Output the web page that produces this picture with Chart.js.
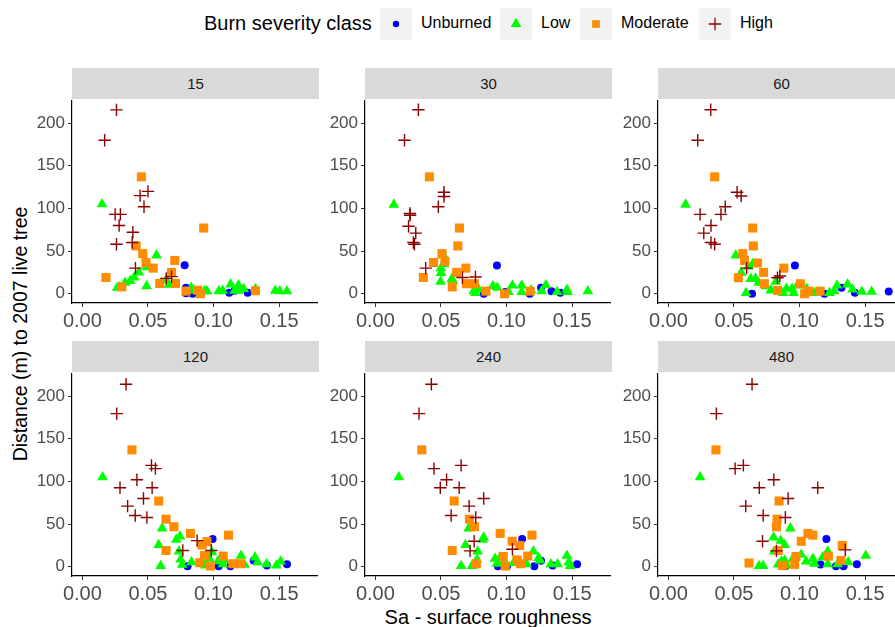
<!DOCTYPE html>
<html>
<head>
<meta charset="utf-8">
<script src="https://cdn.jsdelivr.net/npm/chart.js@4.4.0/dist/chart.umd.min.js"></script>
<style>
  body { margin: 0; width: 895px; height: 627px; overflow: hidden; background: #fff;
         font-family: "Liberation Sans", Arial, sans-serif; position: relative; }
  .strip { position: absolute; width: 247px; height: 31px; line-height: 31px; background: #d9d9d9;
           color: #1a1a1a; font-size: 15px; text-align: center; }
  canvas.panel { position: absolute; }
  .legend-title { position: absolute; left: 204px; top: 12px; font-size: 20px; color: #000; }
  .key { position: absolute; top: 8px; width: 32px; height: 32px; background: #f2f2f2; }
  .key-label { position: absolute; top: 14px; font-size: 16px; color: #000; }
  .ytitle { position: absolute; left: 20px; top: 334px; font-size: 19.5px; color: #000; white-space: nowrap;
            transform: translate(-50%, -50%) rotate(-90deg); }
  .xtitle { position: absolute; left: 488px; top: 617px; font-size: 20px; color: #000; white-space: nowrap;
            transform: translate(-50%, -50%); }
</style>
</head>
<body>
<div class="legend-title">Burn severity class</div>
<div class="ytitle">Distance (m) to 2007 live tree</div>
<div class="xtitle">Sa - surface roughness</div>

<script>
// facet labels (window size) and burn classes
const panels = ['15', '30', '60', '120', '240', '480'];
const classes = ['Unburned', 'Low', 'Moderate', 'High'];
const xTicks = [0, 0.05, 0.10, 0.15];
const yTicks = [0, 50, 100, 150, 200];

// [Sa, distance] per class and facet
const unburned15 = [[0.078,33.5],[0.079,7],[0.079,0.5],[0.084,0],[0.112,1],[0.116,3.5],[0.126,1]];
const low15 = [[0.015,105],[0.0565,45],[0.050,34],[0.049,31],[0.043,25],[0.0395,19],[0.0365,15],[0.0325,13],
  [0.0265,7],[0.0285,8],[0.049,9],[0.066,10.5],[0.064,16],[0.083,7],[0.0855,3.5],[0.093,3],[0.095,3],[0.104,3],
  [0.107,3.5],[0.113,11],[0.119,10],[0.123,5.5],[0.116,3.5],[0.119,3.5],[0.132,5.5],[0.147,3.5],[0.1505,3],[0.156,3]];
const moderate15 = [[0.045,137],[0.0925,77],[0.041,56],[0.046,47],[0.0705,39],[0.0485,36.5],[0.054,30],[0.068,25],
  [0.059,12],[0.071,12],[0.018,19],[0.030,8],[0.079,3],[0.088,4],[0.090,0],[0.132,3.5]];
const high15 = [[0.026,215.5],[0.017,180],[0.044,115],[0.050,120],[0.047,102],[0.025,93],[0.029,93],[0.028,80],
  [0.0385,72],[0.038,60],[0.026,58],[0.0405,30],[0.064,18],[0.068,20]];

const unburned30 = [[0.0927,33],[0.0826,0],[0.099,2],[0.1177,0],[0.1263,7],[0.1343,3],[0.141,1]];
const low30 = [[0.0141,104.5],[0.052,45],[0.0525,35],[0.050,30],[0.050,24.5],[0.0497,14],[0.0583,17.5],[0.0593,14.8],
  [0.075,3],[0.0768,7],[0.0788,5],[0.0763,1],[0.0896,9],[0.093,7],[0.1015,2],[0.1045,9.7],[0.1116,9.7],[0.1116,2],
  [0.1187,4],[0.1268,3],[0.130,10],[0.1386,2],[0.146,4.7],[0.1465,2],[0.162,3]];
const moderate30 = [[0.0412,137],[0.0641,77],[0.0629,56],[0.0508,47],[0.053,38],[0.0444,36.6],[0.069,30],[0.062,25],
  [0.0366,19],[0.0694,11.7],[0.0586,8],[0.0755,11.7],[0.0843,3],[0.0985,0],[0.118,3]];
const high30 = [[0.0328,215.6],[0.0222,180],[0.0523,119],[0.0523,114],[0.048,102],[0.0263,94],[0.0265,92],[0.0253,79],
  [0.0308,71],[0.029,60],[0.0298,58],[0.0384,30],[0.0664,19],[0.0763,19.5]];

const unburned60 = [[0.0965,33],[0.0638,0],[0.119,0],[0.132,7],[0.1422,1],[0.168,2.7]];
const low60 = [[0.0131,104.5],[0.0514,45],[0.0555,24.5],[0.061,32],[0.0643,35],[0.0592,1],[0.0628,17.5],[0.0665,18],
  [0.0688,13],[0.0744,9],[0.0781,3.9],[0.0819,14],[0.0875,1],[0.090,6],[0.0943,5.8],[0.0983,9.7],[0.0955,1],
  [0.1054,5.8],[0.1114,1],[0.1228,1],[0.1265,3],[0.1286,9.7],[0.1366,11],[0.1404,5],[0.1475,2.3],[0.155,2.3]];
const moderate60 = [[0.0353,137],[0.0643,77],[0.0648,56],[0.0567,47],[0.058,39],[0.068,36],[0.088,30],[0.0726,25],
  [0.0534,18.7],[0.0731,11.7],[0.0832,3.9],[0.1006,11.7],[0.1039,0],[0.107,3],[0.1157,3]];
const high60 = [[0.0323,215.6],[0.0224,180],[0.0524,119],[0.0555,114.6],[0.0434,102],[0.0242,93],[0.0401,93],
  [0.0325,80],[0.027,71],[0.0325,60],[0.0353,58],[0.0597,30],[0.0832,18.7],[0.085,20.7]];

const unburned120 = [[0.0993,32.5],[0.0802,0.4],[0.1039,0.4],[0.1129,0.4],[0.1306,7.4],[0.1407,1.5],[0.156,3]];
const low120 = [[0.0154,105],[0.0608,45],[0.0582,25.5],[0.0597,0.8],[0.0716,31.7],[0.0744,35.6],[0.0736,18],
  [0.0749,8.5],[0.0761,2.3],[0.0832,5.4],[0.0913,7.4],[0.0938,1.5],[0.0968,9.3],[0.1034,6.6],[0.1071,3],[0.1084,8],
  [0.121,13],[0.1235,2.3],[0.1316,11],[0.1336,5.4],[0.1404,3],[0.148,1.5],[0.1512,6.2],[0.0988,17]];
const moderate120 = [[0.0378,137],[0.0582,77],[0.0638,55.7],[0.0698,46.8],[0.0824,39],[0.1114,37],[0.0913,25.5],
  [0.095,29.4],[0.0638,19],[0.093,13],[0.1074,12.4],[0.0895,4.6],[0.0976,0.8],[0.1147,3.5],[0.1207,3.5]];
const high120 = [[0.0333,214],[0.0262,179.5],[0.0527,118.8],[0.0557,115],[0.0416,102],[0.0287,92.5],[0.0532,92.5],
  [0.0466,80],[0.0345,71],[0.0403,60],[0.0492,57.6],[0.0766,19],[0.0875,30.6],[0.0983,19]];

const unburned240 = [[0.1119,32.5],[0.0934,0.4],[0.1003,0.4],[0.1212,0.4],[0.1263,7],[0.1351,1.5],[0.1538,3]];
const low240 = [[0.0179,105],[0.0712,45],[0.0826,34.4],[0.0818,31.7],[0.0687,25.5],[0.078,17.8],[0.0775,8.5],
  [0.0654,0.8],[0.0737,0.8],[0.0912,9.3],[0.0952,11],[0.0982,6.2],[0.1053,4.6],[0.1154,3],[0.1205,17.8],[0.1245,10.4],
  [0.1255,7.4],[0.1338,3],[0.1389,3],[0.146,13],[0.1475,5.4],[0.1485,0.8],[0.0927,3.5]];
const moderate240 = [[0.0354,137],[0.0601,77],[0.0717,55.7],[0.0755,46.8],[0.0952,39],[0.1194,37],[0.1043,29.8],
  [0.1101,24.8],[0.0586,19],[0.1162,12.4],[0.108,8],[0.0975,12],[0.1106,3.5],[0.077,3.5],[0.099,0.8]];
const high240 = [[0.0427,214],[0.0333,179.5],[0.0654,118.8],[0.0447,115],[0.0543,102],[0.0495,92.5],[0.0639,92.5],
  [0.0826,80],[0.0715,71],[0.0578,60],[0.0765,57.6],[0.0753,29.8],[0.0722,18.6],[0.1045,20.5]];

const unburned480 = [[0.1205,32.5],[0.0892,0.4],[0.116,2.7],[0.1278,0.4],[0.1336,0.4],[0.1437,3]];
const low480 = [[0.0242,105],[0.093,45],[0.0802,34.4],[0.0857,30.6],[0.0887,25.5],[0.0807,17.8],[0.0691,0.8],
  [0.0723,0.8],[0.0837,2.7],[0.0862,6.2],[0.0887,7.4],[0.095,9.3],[0.1013,14],[0.105,6.2],[0.1102,9.3],[0.1114,3.5],
  [0.1177,11],[0.1215,17.8],[0.1215,3],[0.1371,5.4],[0.1505,13],[0.129,3],[0.090,1.5]];
const moderate480 = [[0.0363,137],[0.0844,77],[0.0829,55.7],[0.0824,46.8],[0.1064,39],[0.1102,37],[0.1013,29.8],
  [0.1326,24.8],[0.0615,4.3],[0.122,12.4],[0.1316,7.4],[0.0973,12],[0.0963,2.7],[0.0837,19],[0.087,1.5]];
const high480 = [[0.0638,214],[0.0366,179.5],[0.0509,115],[0.0572,118.8],[0.0804,102],[0.0693,92.5],[0.1139,92.5],
  [0.0913,80],[0.059,71],[0.0723,60],[0.0892,57.6],[0.0718,29.8],[0.0824,18.6],[0.1349,19.7]];

const facetData = {
  '15':  [unburned15, low15, moderate15, high15],
  '30':  [unburned30, low30, moderate30, high30],
  '60':  [unburned60, low60, moderate60, high60],
  '120': [unburned120, low120, moderate120, high120],
  '240': [unburned240, low240, moderate240, high240],
  '480': [unburned480, low480, moderate480, high480]
};

// marker look for each class
const styles = [
  { pointStyle: 'circle',   color: '#0000ff', radius: 4 },
  { pointStyle: 'triangle', color: '#00ff00', radius: 6.2 },
  { pointStyle: 'rect',     color: '#ff8c00', radius: 6.4 },
  { pointStyle: 'cross',    color: '#8b0000', radius: 6.2 }
];

// layout of the 3x2 grid
const colLeft = [72, 365, 658];
const rowTop = [99, 372];
const plotW = 247, plotH = 204, yAxisW = 60, xAxisH = 36, padTop = 6;
const tickFont = '"Liberation Sans", Arial, sans-serif';

function makePanel(name, idx) {
  const col = idx % 3, row = Math.floor(idx / 3);
  const strip = document.createElement('div');
  strip.className = 'strip';
  strip.style.left = colLeft[col] + 'px';
  strip.style.top = (rowTop[row] - 31) + 'px';
  strip.textContent = name;
  document.body.appendChild(strip);

  const cv = document.createElement('canvas');
  cv.className = 'panel';
  cv.width = yAxisW + plotW + 6;
  cv.height = padTop + plotH + xAxisH;
  cv.style.left = (colLeft[col] - yAxisW) + 'px';
  cv.style.top = (rowTop[row] - padTop) + 'px';
  document.body.appendChild(cv);

  const datasets = facetData[name].map((pts, i) => {
    const s = styles[i];
    const isCross = s.pointStyle === 'cross';
    return {
      label: classes[i],
      data: pts.map(p => ({ x: p[0], y: p[1] })),
      pointStyle: s.pointStyle,
      pointRadius: s.radius,
      backgroundColor: s.color,
      borderColor: s.color,
      pointBorderWidth: isCross ? 1.4 : 0,
      showLine: false,
      clip: false
    };
  }).reverse();

  new Chart(cv.getContext('2d'), {
    type: 'scatter',
    data: { datasets },
    options: {
      responsive: false,
      animation: false,
      events: [],
      layout: { padding: { top: padTop, right: 6, left: 0, bottom: 0 } },
      plugins: { legend: { display: false }, tooltip: { enabled: false } },
      scales: {
        x: {
          type: 'linear', min: -0.0079, max: 0.1792,
          afterBuildTicks: s => { s.ticks = xTicks.map(v => ({ value: v })); },
          afterFit: s => { s.height = xAxisH; },
          grid: { display: true, drawOnChartArea: false, drawTicks: true, tickLength: 4, color: '#333333' },
          border: { display: true, color: '#000000', width: 1.2 },
          ticks: { autoSkip: false, maxRotation: 0, padding: 2, color: '#4d4d4d',
                   font: { size: 20, family: tickFont },
                   callback: v => v.toFixed(2) }
        },
        y: {
          type: 'linear', min: -10.9, max: 226.4,
          afterBuildTicks: s => { s.ticks = yTicks.map(v => ({ value: v })); },
          // fixed width, and no extra room reserved for the top/bottom labels
          afterFit: s => { s.width = yAxisW; s.paddingTop = 0; s.paddingBottom = 0; },
          grid: { display: true, drawOnChartArea: false, drawTicks: true, tickLength: 4, color: '#333333' },
          border: { display: true, color: '#000000', width: 1.2 },
          ticks: { autoSkip: false, padding: 3, color: '#4d4d4d',
                   font: { size: 17, family: tickFont } }
        }
      }
    }
  });
}

panels.forEach(makePanel);

// legend keys
const keyLeft = [380, 500, 580, 699];
const labelLeft = [421, 541, 621, 740];
classes.forEach((c, i) => {
  const key = document.createElement('div');
  key.className = 'key';
  key.style.left = keyLeft[i] + 'px';
  const kc = document.createElement('canvas');
  kc.width = 32; kc.height = 32;
  key.appendChild(kc);
  document.body.appendChild(key);
  const ctx = kc.getContext('2d');
  const s = styles[i];
  ctx.fillStyle = s.color;
  ctx.strokeStyle = s.color;
  const cx = 16, cy = 16, r = s.radius;
  ctx.beginPath();
  if (s.pointStyle === 'circle') {
    ctx.arc(cx, cy, r * 0.8, 0, Math.PI * 2);
    ctx.fill();
  } else if (s.pointStyle === 'triangle') {
    ctx.moveTo(cx, cy - r);
    ctx.lineTo(cx + r * 0.866, cy + r * 0.5);
    ctx.lineTo(cx - r * 0.866, cy + r * 0.5);
    ctx.closePath();
    ctx.fill();
  } else if (s.pointStyle === 'rect') {
    const h = r * Math.SQRT1_2 * 0.85;
    ctx.fillRect(cx - h, cy - h, 2 * h, 2 * h);
  } else {
    ctx.lineWidth = 1.3;
    ctx.moveTo(cx - r, cy); ctx.lineTo(cx + r, cy);
    ctx.moveTo(cx, cy - r); ctx.lineTo(cx, cy + r);
    ctx.stroke();
  }
  const lab = document.createElement('div');
  lab.className = 'key-label';
  lab.style.left = labelLeft[i] + 'px';
  lab.textContent = c;
  document.body.appendChild(lab);
});
</script>
</body>
</html>
